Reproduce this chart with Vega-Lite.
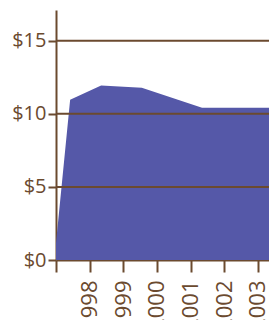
{
  "$schema": "https://vega.github.io/schema/vega-lite/v6.json",
  "width": 213,
  "height": 250,
  "autosize": "none",
  "padding": {"left": 56, "top": 10, "right": 0, "bottom": 60},
  "background": "white",
  "layer": [
    {
      "data": {"values": [
        {"year": 1996.95, "value": 0},
        {"year": 1997.42, "value": 10.96},
        {"year": 1998.34, "value": 11.94},
        {"year": 1999.55, "value": 11.78},
        {"year": 2001.34, "value": 10.41},
        {"year": 2004.0, "value": 10.41}
      ]},
      "mark": {"type": "area", "color": "#5558a8", "clip": true, "opacity": 1},
      "encoding": {
        "x": {
          "field": "year", "type": "quantitative",
          "scale": {"domain": [1997, 2003.33], "nice": false, "zero": false},
          "axis": {
            "title": null,
            "values": [1997, 1998, 1999, 2000, 2001, 2002, 2003],
            "labelExpr": "datum.value == 1997 ? '' : format(datum.value, 'd')",
            "labelAngle": -90,
            "labelFontSize": 22,
            "tickSize": 12,
            "labelPadding": 8,
            "grid": false
          }
        },
        "y": {
          "field": "value", "type": "quantitative",
          "scale": {"domain": [0, 17.1], "nice": false},
          "axis": {
            "title": null,
            "values": [0, 5, 10, 15],
            "labelExpr": "'$' + datum.value",
            "tickSize": 8,
            "labelPadding": 2,
            "grid": false
          }
        }
      }
    },
    {
      "data": {"values": [{"level": 5}, {"level": 10}, {"level": 15}]},
      "mark": {"type": "rule", "color": "#6b4a2f", "strokeWidth": 2},
      "encoding": {
        "y": {"field": "level", "type": "quantitative"}
      }
    }
  ],
  "config": {
    "view": {"stroke": null},
    "axis": {
      "zindex": 1,
      "domainColor": "#6b4a2f",
      "domainWidth": 2,
      "tickColor": "#6b4a2f",
      "tickWidth": 2,
      "labelColor": "#6b4a2f",
      "labelFont": "Open Sans",
      "labelFontSize": 20,
      "labelOverlap": false,
      "labelFlush": false
    }
  }
}
